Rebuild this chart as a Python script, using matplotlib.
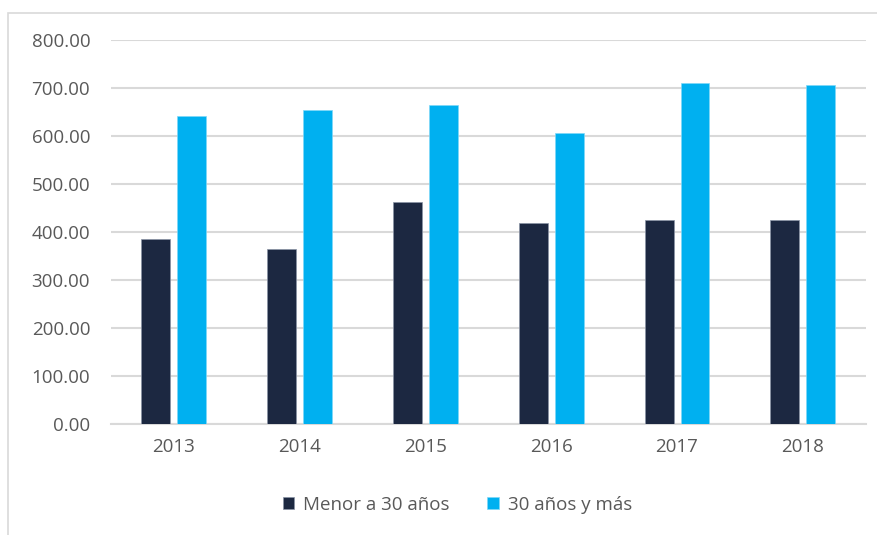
import numpy as np
import matplotlib.pyplot as plt
from matplotlib.patches import Rectangle

years = ["2013", "2014", "2015", "2016", "2017", "2018"]
menor_30 = [385, 365, 461, 418, 425, 425]
mayor_30 = [641, 653, 665, 605, 710, 706]
y_ticks = [0, 100, 200, 300, 400, 500, 600, 700, 800]

dark = "#1C2841"
light = "#00B0F0"
grey_text = "#595959"
grid_col = "#D9D9D9"

plt.rcParams["font.family"] = ["Open Sans", "DejaVu Sans"]

fig = plt.figure(figsize=(8.78, 5.35), dpi=100)
ax = fig.add_axes([0.1264, 0.208, 0.8596, 0.7178])

# outer chart border
fig.patches.append(Rectangle((8 / 878, -0.1), 1.2, 1 - 13 / 535 + 0.1,
                             transform=fig.transFigure, fill=False,
                             edgecolor=grid_col, linewidth=1.2))

x = np.arange(len(years))
w = 0.23
off = 0.143
ax.bar(x - off, menor_30, w, color=dark, edgecolor="#8A93A6", linewidth=0.5,
       label="Menor a 30 años", zorder=3)
ax.bar(x + off, mayor_30, w, color=light, edgecolor="#7FD8F8", linewidth=0.5,
       label="30 años y más", zorder=3)

ax.set_xlim(-0.5, len(years) - 0.5)
ax.set_ylim(0, 800)
ax.set_yticks(y_ticks)
ax.set_yticklabels([f"{v:.2f}" for v in y_ticks])
ax.set_xticks(x)
ax.set_xticklabels(years)
ax.tick_params(axis="both", length=0, labelsize=13.5, colors=grey_text)
ax.tick_params(axis="y", pad=15)
ax.tick_params(axis="x", pad=10)

ax.yaxis.grid(True, color=grid_col, linewidth=1.5, zorder=0)
for s in ["top", "right", "left"]:
    ax.spines[s].set_visible(False)
ax.spines["bottom"].set_color(grid_col)
ax.spines["bottom"].set_linewidth(1.5)

leg = fig.legend(loc="center", bbox_to_anchor=(0.521, 0.056), ncol=2,
                 frameon=False, fontsize=13.5, handlelength=0.6,
                 handleheight=0.6, handletextpad=0.5, columnspacing=2.0)
for t in leg.get_texts():
    t.set_color(grey_text)

fig.savefig("out.png", dpi=100)
